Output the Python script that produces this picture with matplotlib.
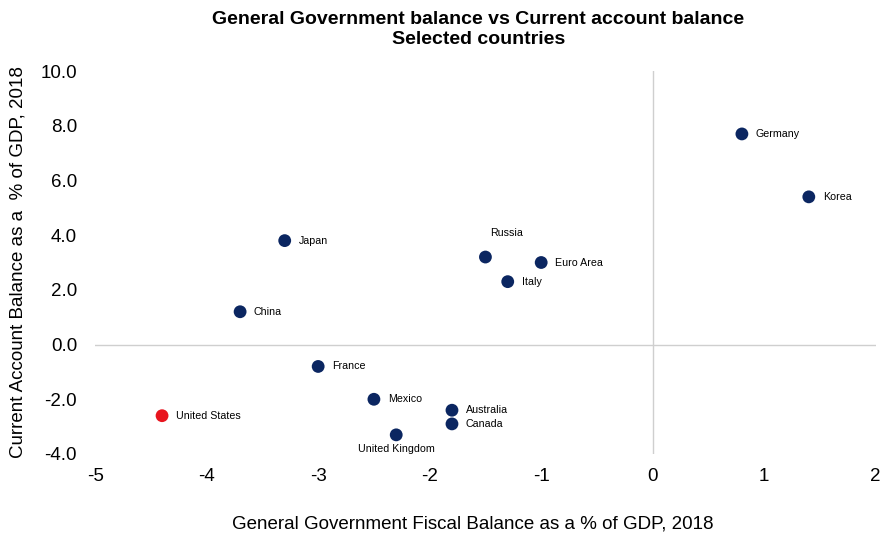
import matplotlib.pyplot as plt
from matplotlib.ticker import FuncFormatter

plt.rcParams['font.family'] = ['Liberation Sans', 'DejaVu Sans']

# data (fiscal balance, current account balance), % of GDP 2018
countries = ['Germany', 'Korea', 'Japan', 'Russia', 'Euro Area', 'Italy', 'China',
             'France', 'Mexico', 'United States', 'Australia', 'Canada', 'United Kingdom']
fiscal = [0.8, 1.4, -3.3, -1.5, -1.0, -1.3, -3.7, -3.0, -2.5, -4.4, -1.8, -1.8, -2.3]
current = [7.7, 5.4, 3.8, 3.2, 3.0, 2.3, 1.2, -0.8, -2.0, -2.6, -2.4, -2.9, -3.3]

navy = '#0b2661'
red = '#e8141e'

fig = plt.figure(figsize=(8.81, 5.36), dpi=100)
ax = fig.add_axes([0.108, 0.153, 0.886, 0.7145])

ax.axhline(0, color='#cfcfcf', lw=1, zorder=1)
ax.axvline(0, color='#cfcfcf', lw=1, zorder=1)

colors = [red if c == 'United States' else navy for c in countries]
ax.scatter(fiscal, current, s=85, c=colors, zorder=3, linewidths=0)

for name, x, y in zip(countries, fiscal, current):
    if name == 'Russia':
        ax.annotate(name, (x, y), xytext=(15, 17), textcoords='offset points',
                    ha='center', va='center', fontsize=7.7)
    elif name == 'United Kingdom':
        ax.annotate(name, (x, y), xytext=(0, -10), textcoords='offset points',
                    ha='center', va='center', fontsize=7.7)
    else:
        ax.annotate(name, (x, y), xytext=(10, 0), textcoords='offset points',
                    ha='left', va='center', fontsize=7.7)

ax.set_xlim(-5, 2)
ax.set_ylim(-4, 10)
ax.set_xticks(range(-5, 3))
ax.set_yticks(range(-4, 11, 2))
ax.xaxis.set_major_formatter(FuncFormatter(lambda v, p: '%d' % v))
ax.yaxis.set_major_formatter(FuncFormatter(lambda v, p: '%.1f' % v))
ax.tick_params(length=0, labelsize=13.5)
ax.tick_params(axis='y', pad=13)
ax.tick_params(axis='x', pad=10)
for s in ax.spines.values():
    s.set_visible(False)

ax.set_xlabel('General Government Fiscal Balance as a % of GDP, 2018', fontsize=13.5, labelpad=22)
ax.xaxis.label.set_x(0.484)
ax.set_ylabel('Current Account Balance as a  % of GDP, 2018', fontsize=13.5, labelpad=10)
fig.text(0.543, 0.945, 'General Government balance vs Current account balance\nSelected countries',
         fontsize=14, fontweight='bold', ha='center', va='center', linespacing=1.2)

fig.savefig('out.png', dpi=100)
